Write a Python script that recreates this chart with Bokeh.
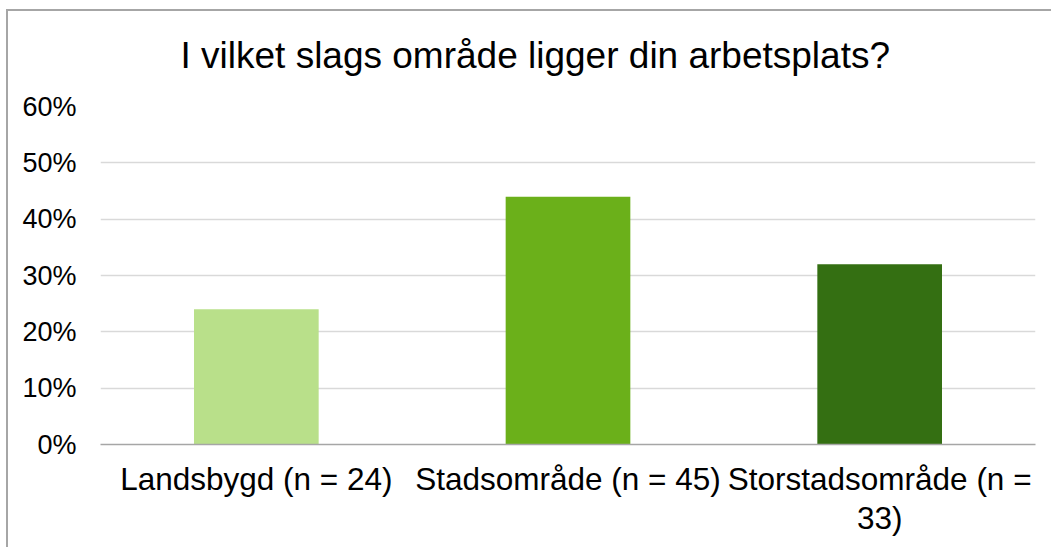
from bokeh.plotting import figure
from bokeh.models import (FixedTicker, NumeralTickFormatter, ColumnDataSource, FactorRange,
                          CategoricalAxis, CustomJSTickFormatter)
from bokeh.embed import file_html
from bokeh.resources import INLINE

title_text = "I vilket slags område ligger din arbetsplats?"
categories = ["Landsbygd (n = 24)", "Stadsområde (n = 45)", "Storstadsområde (n = 33)"]
label_line1 = ["Landsbygd (n = 24)", "Stadsområde (n = 45)", "Storstadsområde (n ="]
label_line2 = ["", "", "33)"]
values = [0.24, 0.44, 0.32]
colors = ["#b9e08a", "#6bb01a", "#346f12"]
y_ticks = [0.0, 0.1, 0.2, 0.3, 0.4, 0.5, 0.6]

FONT = "Liberation Sans"

p = figure(
    x_range=FactorRange(factors=categories),
    y_range=(0, 0.6),
    width=1051, height=547,
    output_backend="svg", toolbar_location=None,
    min_border_left=100, min_border_right=16, min_border_top=106, min_border_bottom=103,
)
p.background_fill_color = "white"
p.border_fill_color = None
p.outline_line_color = None
# chart-area frame (thin grey border at top/left of the chart area)
p.styles = {"box-shadow": "inset 6px 9px 0 0 #ffffff, inset 8px 11px 0 0 #a6a6a6"}

src = ColumnDataSource(dict(x=categories, top=values, color=colors))
p.vbar(x="x", top="top", width=0.4, color="color", line_color=None, source=src)

p.title.text = title_text
p.title.text_font = FONT
p.title.text_font_size = "37px"
p.title.text_font_style = "normal"
p.title.text_color = "#000000"
p.title.text_line_height = 0.85
p.title.align = "left"
p.title.offset = 80
p.title.standoff = 62

# y axis
p.yaxis.ticker = FixedTicker(ticks=y_ticks)
p.yaxis.formatter = NumeralTickFormatter(format="0%")
p.yaxis.axis_line_color = None
p.yaxis.major_tick_line_color = None
p.yaxis.minor_tick_line_color = None
p.yaxis.major_tick_out = 0
p.yaxis.major_label_text_font = FONT
p.yaxis.major_label_text_font_size = "27px"
p.yaxis.major_label_text_color = "#000000"
p.yaxis.major_label_standoff = 24

map_code = """
const i = cats.indexOf(tick);
return i >= 0 ? lines[i] : tick;
"""

# x axis (first label line)
p.xaxis.axis_line_color = "#a6a6a6"
p.xaxis.axis_line_width = 1.5
p.xaxis.major_tick_line_color = None
p.xaxis.minor_tick_line_color = None
p.xaxis.major_tick_out = 0
p.xaxis.major_label_text_font = FONT
p.xaxis.major_label_text_font_size = "31.5px"
p.xaxis.major_label_text_color = "#000000"
p.xaxis.major_label_standoff = 16
p.xaxis.formatter = CustomJSTickFormatter(args=dict(cats=categories, lines=label_line1), code=map_code)

# second line of wrapped category labels
ax2 = CategoricalAxis(
    axis_line_color=None, major_tick_line_color=None, minor_tick_line_color=None,
    major_tick_out=0, major_label_standoff=0,
    major_label_text_font=FONT, major_label_text_font_size="31.5px",
    major_label_text_color="#000000",
    formatter=CustomJSTickFormatter(args=dict(cats=categories, lines=label_line2), code=map_code),
)
p.add_layout(ax2, "below")

p.xgrid.grid_line_color = None
p.ygrid.grid_line_color = "#d9d9d9"
p.ygrid.grid_line_width = 1.5

open("out.html", "w").write(file_html(p, INLINE))
